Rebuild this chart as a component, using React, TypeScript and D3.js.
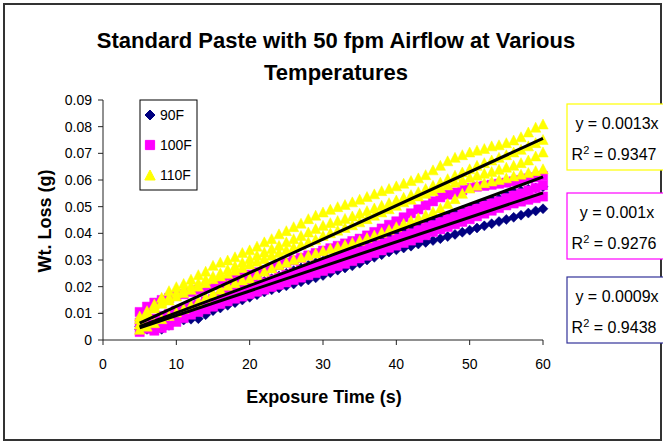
import React from "react";
import * as d3 from "d3";

// ---- data ----
const times = [5, 6, 7, 8, 9, 10, 11, 12, 13, 14, 15, 16, 17, 18, 19, 20, 21, 22, 23, 24, 25, 26, 27, 28, 29, 30, 31, 32, 33, 34, 35, 36, 37, 38, 39, 40, 41, 42, 43, 44, 45, 46, 47, 48, 49, 50, 51, 52, 53, 54, 55, 56, 57, 58, 59, 60];

// 90F runs
const run90A = [0.005, 0.006, 0.007, 0.0085, 0.009, 0.0095, 0.011, 0.012, 0.013, 0.014, 0.0148, 0.0158, 0.017, 0.018, 0.019, 0.02, 0.021, 0.022, 0.023, 0.024, 0.025, 0.026, 0.027, 0.028, 0.029, 0.0295, 0.03, 0.0308, 0.0315, 0.033, 0.034, 0.035, 0.0365, 0.038, 0.039, 0.04, 0.041, 0.042, 0.043, 0.0438, 0.0445, 0.0455, 0.0465, 0.0475, 0.0485, 0.0495, 0.0505, 0.0515, 0.0525, 0.053, 0.0545, 0.0555, 0.056, 0.0565, 0.057, 0.0575];
const run90B = [0.004, 0.004, 0.0038, 0.004, 0.0055, 0.008, 0.0075, 0.0078, 0.008, 0.0095, 0.011, 0.012, 0.013, 0.014, 0.015, 0.016, 0.017, 0.018, 0.0188, 0.0195, 0.0203, 0.021, 0.0218, 0.0225, 0.0233, 0.0242, 0.0252, 0.0262, 0.027, 0.0278, 0.0288, 0.03, 0.031, 0.032, 0.033, 0.0338, 0.0345, 0.0352, 0.036, 0.0366, 0.0373, 0.038, 0.0388, 0.0396, 0.0404, 0.0412, 0.042, 0.0428, 0.0436, 0.0444, 0.0452, 0.046, 0.0468, 0.0476, 0.0484, 0.0492];

// 100F runs
const run100A = [0.0105, 0.0125, 0.014, 0.015, 0.0158, 0.0165, 0.0172, 0.018, 0.0188, 0.0196, 0.0205, 0.0212, 0.022, 0.0228, 0.0236, 0.0245, 0.0254, 0.0262, 0.0272, 0.0281, 0.029, 0.0299, 0.0308, 0.0317, 0.0326, 0.0335, 0.0344, 0.0353, 0.0362, 0.0371, 0.038, 0.0392, 0.0405, 0.0418, 0.0432, 0.0445, 0.046, 0.0475, 0.049, 0.0505, 0.052, 0.0535, 0.0545, 0.0553, 0.0562, 0.057, 0.0575, 0.0578, 0.0582, 0.0586, 0.059, 0.0595, 0.06, 0.0606, 0.061, 0.0615];
const run100B = [0.0065, 0.0072, 0.008, 0.009, 0.0098, 0.011, 0.0118, 0.0127, 0.0134, 0.0145, 0.0154, 0.0163, 0.017, 0.0181, 0.019, 0.02, 0.0209, 0.0216, 0.0227, 0.0236, 0.0245, 0.0252, 0.0263, 0.0272, 0.0281, 0.029, 0.0297, 0.0308, 0.0317, 0.0326, 0.0333, 0.0344, 0.0353, 0.0362, 0.037, 0.038, 0.0391, 0.04, 0.0412, 0.0423, 0.0431, 0.0443, 0.0454, 0.0462, 0.0475, 0.0485, 0.0493, 0.0504, 0.0513, 0.052, 0.0532, 0.0542, 0.055, 0.0561, 0.057, 0.058];
const run100C = [0.003, 0.0042, 0.0035, 0.0045, 0.0055, 0.0068, 0.0082, 0.0095, 0.0105, 0.0115, 0.0125, 0.0135, 0.0145, 0.0155, 0.0163, 0.0172, 0.0181, 0.0189, 0.0199, 0.0207, 0.0216, 0.0225, 0.0234, 0.0243, 0.0251, 0.0259, 0.0268, 0.0277, 0.0286, 0.0296, 0.0306, 0.0316, 0.0326, 0.0336, 0.0346, 0.0354, 0.0364, 0.0373, 0.0383, 0.0393, 0.0405, 0.0415, 0.0424, 0.0434, 0.0443, 0.0453, 0.0464, 0.0474, 0.0485, 0.0495, 0.0505, 0.0512, 0.0519, 0.0526, 0.0532, 0.0538];

// 110F runs
const run110A = [0.006, 0.0095, 0.0135, 0.016, 0.0185, 0.02, 0.0212, 0.0228, 0.0245, 0.0258, 0.028, 0.0292, 0.03, 0.0312, 0.0328, 0.0338, 0.0352, 0.0368, 0.038, 0.0398, 0.041, 0.0425, 0.0438, 0.0455, 0.0468, 0.048, 0.049, 0.05, 0.0508, 0.0518, 0.0528, 0.0538, 0.0548, 0.056, 0.0568, 0.0578, 0.0588, 0.0598, 0.0608, 0.062, 0.0638, 0.0655, 0.0672, 0.0685, 0.0695, 0.0705, 0.0712, 0.0718, 0.0728, 0.0732, 0.074, 0.075, 0.0762, 0.078, 0.0798, 0.081];
const run110D = [0.009, 0.011, 0.0128, 0.0145, 0.016, 0.0178, 0.019, 0.0203, 0.0215, 0.0228, 0.024, 0.0252, 0.0265, 0.0278, 0.0292, 0.0305, 0.0318, 0.033, 0.0343, 0.0355, 0.0368, 0.038, 0.0392, 0.0405, 0.0418, 0.043, 0.044, 0.0448, 0.0456, 0.0465, 0.0475, 0.0485, 0.0495, 0.0505, 0.0515, 0.0525, 0.0535, 0.0545, 0.0556, 0.0568, 0.058, 0.0592, 0.0605, 0.0618, 0.063, 0.0642, 0.0655, 0.0665, 0.0675, 0.0685, 0.0695, 0.0705, 0.0715, 0.0728, 0.074, 0.0752];
const run110B = [0.008, 0.0105, 0.012, 0.0138, 0.015, 0.0165, 0.0178, 0.019, 0.0202, 0.0215, 0.023, 0.024, 0.025, 0.0262, 0.0272, 0.0285, 0.0295, 0.0305, 0.0318, 0.0328, 0.0338, 0.0348, 0.0358, 0.0368, 0.0378, 0.0392, 0.0402, 0.0412, 0.0422, 0.0432, 0.0443, 0.0455, 0.0468, 0.048, 0.0492, 0.0505, 0.0518, 0.0528, 0.054, 0.055, 0.056, 0.0572, 0.0582, 0.0592, 0.06, 0.061, 0.0618, 0.0625, 0.0632, 0.064, 0.0648, 0.0655, 0.0665, 0.0675, 0.069, 0.0705];
const run110C = [0.004, 0.0052, 0.0065, 0.008, 0.0092, 0.0105, 0.0118, 0.013, 0.0145, 0.016, 0.0175, 0.019, 0.0205, 0.0215, 0.0225, 0.0232, 0.0245, 0.0258, 0.027, 0.0282, 0.0292, 0.0302, 0.031, 0.0318, 0.0326, 0.0335, 0.0343, 0.035, 0.0358, 0.0366, 0.0374, 0.0384, 0.0394, 0.0404, 0.0414, 0.0425, 0.0437, 0.0448, 0.0458, 0.047, 0.0482, 0.0495, 0.0512, 0.053, 0.055, 0.057, 0.058, 0.059, 0.0596, 0.0602, 0.0608, 0.0615, 0.0622, 0.0628, 0.0635, 0.0642];

const seriesNames = ["90F", "100F", "110F"];
const seriesColors = ["#000080", "#FF00FF", "#FFFF00"];
const trendSlopes = [0.00092, 0.00102, 0.00126];
const eqLabels = ["y = 0.0009x", "y = 0.001x", "y = 0.0013x"];
const r2Labels = ["0.9438", "0.9276", "0.9347"];
const xTicks = [0, 10, 20, 30, 40, 50, 60];
const yTicks = [0, 0.01, 0.02, 0.03, 0.04, 0.05, 0.06, 0.07, 0.08, 0.09];

const runs = [
  { s: 0, v: run90A },
  { s: 0, v: run90B },
  { s: 1, v: run100A },
  { s: 1, v: run100B },
  { s: 1, v: run100C },
  { s: 2, v: run110A },
  { s: 2, v: run110D },
  { s: 2, v: run110B },
  { s: 2, v: run110C },
];

const FONT = "'Liberation Sans', Arial, sans-serif";

function markerPath(s: number, cx: number, cy: number): string {
  if (s === 0) {
    const r = 5;
    return `M${cx},${cy - r}L${cx + r},${cy}L${cx},${cy + r}L${cx - r},${cy}Z`;
  }
  if (s === 1) {
    const r = 4.6;
    return `M${cx - r},${cy - r}L${cx + r},${cy - r}L${cx + r},${cy + r}L${cx - r},${cy + r}Z`;
  }
  const w = 5.2;
  const h = 5;
  return `M${cx},${cy - h}L${cx + w},${cy + h}L${cx - w},${cy + h}Z`;
}

export default function App() {
  const W = 663;
  const H = 443;
  const x = d3.scaleLinear().domain([0, 60]).range([103, 543]);
  const y = d3.scaleLinear().domain([0, 0.09]).range([340, 100]);

  const boxTops = [277, 193, 104];

  return (
    <svg
      width={W}
      height={H}
      style={{ position: "absolute", left: 0, top: 0, background: "#fff" }}
      fontFamily={FONT}
    >
      <rect x={0} y={0} width={W} height={H} fill="#fff" />
      <rect x={4} y={4} width={657} height={436} fill="none" stroke="#333" strokeWidth={2} />

      {/* title */}
      <text x={336} y={48} textAnchor="middle" fontSize={22} fontWeight="bold">
        Standard Paste with 50 fpm Airflow at Various
      </text>
      <text x={336} y={80} textAnchor="middle" fontSize={22} fontWeight="bold">
        Temperatures
      </text>

      {/* markers */}
      <g>
        {runs.map((r, ri) => (
          <g key={ri}>
            {r.v.map((v, i) => (
              <path
                key={i}
                d={markerPath(r.s, x(times[i]), y(v))}
                fill={seriesColors[r.s]}
                stroke={seriesColors[r.s]}
                strokeWidth={0.5}
              />
            ))}
          </g>
        ))}
      </g>

      {/* trend lines */}
      {trendSlopes.map((m, i) => (
        <line
          key={i}
          x1={x(5)}
          y1={y(m * 5)}
          x2={x(60)}
          y2={y(m * 60)}
          stroke="#000"
          strokeWidth={3}
        />
      ))}

      {/* axes */}
      <line x1={x(0)} y1={y(0)} x2={x(60)} y2={y(0)} stroke="#222" strokeWidth={1} />
      <line x1={x(0)} y1={y(0)} x2={x(0)} y2={y(0.09)} stroke="#222" strokeWidth={1} />
      {xTicks.map((t) => (
        <g key={t}>
          <line x1={x(t)} y1={y(0)} x2={x(t)} y2={y(0) + 5} stroke="#222" />
          <text x={x(t)} y={369} textAnchor="middle" fontSize={14}>
            {t}
          </text>
        </g>
      ))}
      {yTicks.map((t) => (
        <g key={t}>
          <line x1={x(0) - 5} y1={y(t)} x2={x(0)} y2={y(t)} stroke="#222" />
          <text x={92} y={y(t) + 5} textAnchor="end" fontSize={14}>
            {t === 0 ? "0" : d3.format(".2f")(t)}
          </text>
        </g>
      ))}

      <text x={324} y={403} textAnchor="middle" fontSize={18} fontWeight="bold">
        Exposure Time (s)
      </text>
      <text
        transform={`translate(51,221) rotate(-90)`}
        textAnchor="middle"
        fontSize={18}
        fontWeight="bold"
      >
        Wt. Loss (g)
      </text>

      {/* legend */}
      <rect x={140} y={100} width={57} height={90} fill="#fff" stroke="#000" strokeWidth={1} />
      {seriesNames.map((n, i) => (
        <g key={n}>
          <path d={markerPath(i, 150, 115 + i * 30)} fill={seriesColors[i]} stroke={seriesColors[i]} />
          <text x={160} y={120 + i * 30} fontSize={14}>
            {n}
          </text>
        </g>
      ))}

      {/* equation boxes */}
      {eqLabels.map((eq, i) => (
        <g key={eq}>
          <rect
            x={567}
            y={boxTops[i]}
            width={110}
            height={66}
            fill="#fff"
            stroke={i === 0 ? "#333399" : seriesColors[i]}
            strokeWidth={1.2}
          />
          <text x={617} y={boxTops[i] + 25} textAnchor="middle" fontSize={16}>
            {eq}
          </text>
          <text x={614} y={boxTops[i] + 56} textAnchor="middle" fontSize={16}>
            R<tspan dy={-6} fontSize={11}>2</tspan>
            <tspan dy={6}> = {r2Labels[i]}</tspan>
          </text>
        </g>
      ))}
    </svg>
  );
}
